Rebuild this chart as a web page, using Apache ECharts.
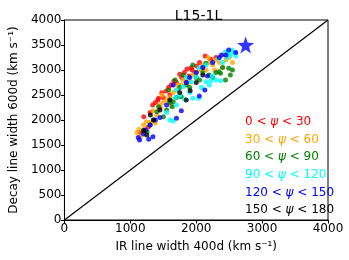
<!DOCTYPE html>
<html><head><meta charset="utf-8">
<script src="https://cdn.jsdelivr.net/npm/echarts@6/dist/echarts.min.js"></script>
<style>html,body{margin:0;padding:0;background:#fff}#c{width:349px;height:260px}</style>
</head><body><div id="c"></div>
<script>
const xTicks = [0, 1000, 2000, 3000, 4000];
const yTicks = [0, 500, 1000, 1500, 2000, 2500, 3000, 3500, 4000];
const legendLabels = ['0 < ', '30 < ', '60 < ', '90 < ', '120 < ', '150 < '];
const legendUpper = ['30', '60', '90', '120', '150', '180'];
const groupColors = ['#ff0000', '#ffa500', '#008000', '#00ffff', '#0000ff', '#000000'];

const red = [[1150,1750],[1204,2067],[1268,1853],[1300,2150],[1338,2300],[1380,2350],[1418,2400],[1428,2433],[1477,2547],[1500,2450],[1542,2580],[1580,2650],[1620,2700],[1661,2780],[1700,2750],[1750,2913],[1780,2850],[1820,2950],[1849,2767],[1859,3020],[1888,2880],[1923,3047],[1938,3000],[1980,2950],[2007,3080],[2050,3150],[2100,3050],[2137,3280],[2220,3213],[2300,3250],[1600,2500],[1450,2250]];
const orange = [[1100,1750],[1130,1813],[1155,1667],[1200,1900],[1244,1967],[1300,1950],[1343,2187],[1378,1933],[1400,2100],[1450,2300],[1500,2350],[1550,2400],[1600,2450],[1650,2550],[1700,2600],[1720,2700],[1780,2700],[1800,2800],[1850,2850],[1900,2750],[1950,2900],[2000,2950],[2050,3000],[2100,3100],[2150,3000],[2200,3150],[2250,3100],[2300,3200],[2350,3150],[2400,3050],[2450,3200],[2500,3250],[2550,3150],[2280,3000],[1620,2300],[1480,2500],[2180,3250],[2420,3300]];
const green = [[1200,1800],[1254,1767],[1300,1900],[1350,2000],[1403,2167],[1428,2267],[1502,2067],[1550,2200],[1600,2350],[1636,2267],[1651,2367],[1700,2450],[1774,2467],[1750,2650],[1799,2900],[1850,2700],[1900,2650],[1948,3100],[2000,2850],[2050,2800],[2100,2950],[2146,3133],[2196,2900],[2250,2850],[2300,2950],[2345,2967],[2369,2933],[2400,3050],[2444,2800],[2493,3033],[2518,2900],[2550,3000],[1580,2600],[1680,2800]];
const cyan = [[1601,2000],[1650,1980],[1550,2150],[1700,2300],[1680,2450],[1700,2600],[1750,2500],[1799,2667],[1824,2413],[1900,2550],[1923,2767],[1948,2433],[2000,2870],[2037,2433],[2080,2650],[2146,2767],[2200,2700],[2220,2787],[2245,2880],[2300,2800],[2345,3233],[2369,2787],[2400,3150],[2444,3367],[2470,3250],[2493,3333],[2518,3300],[2543,3400],[2580,3350],[2600,3280],[2150,3100],[2050,3050],[1850,2850]];
const blue = [[1120,1650],[1140,1600],[1200,1720],[1279,1613],[1343,1667],[1230,1800],[1300,1900],[1380,2000],[1450,2050],[1700,2033],[1774,2186],[2047,2480],[2131,2600],[2171,2880],[1850,2750],[1900,2850],[2000,2950],[2100,3050],[2250,3150],[2350,3250],[2384,3300],[2450,3300],[2493,3400],[2600,3350],[1550,2300],[1650,2700]];
const black = [[1204,1787],[1304,2100],[1353,2000],[1450,2200],[1600,2400],[1750,2550],[1849,2400],[1908,2587],[2000,2750],[2100,2900],[1250,1700]];
const star = [[2750, 3500]];
const diagonal = [[0, 0], [4000, 4000]];

const groups = [red, orange, green, cyan, blue, black];
const F = 'DejaVu Sans';

const series = groups.map((g, i) => ({
  type: 'scatter', data: g, symbolSize: 5,
  itemStyle: { color: groupColors[i] }, z: 3
}));
series.push({ type: 'line', data: diagonal, symbol: 'none', lineStyle: { color: '#000', width: 1.2 }, z: 2 });
series.push({ type: 'scatter', data: star,
  symbol: 'path://M0,-10 L2.35,-3.24 L9.51,-3.09 L3.80,1.24 L5.88,8.09 L0,4 L-5.88,8.09 L-3.80,1.24 L-9.51,-3.09 L-2.35,-3.24 Z',
  symbolSize: 17, itemStyle: { color: '#0000ff' }, z: 4 });

const graphics = legendLabels.map((t, i) => ({
  type: 'text', left: 245, top: 116 + i * 17.6,
  style: {
    text: t + '{i|ψ} < ' + legendUpper[i],
    fill: groupColors[i], font: '12px "' + F + '"',
    rich: { i: { fontStyle: 'italic', fontFamily: F, fontSize: 12, fill: groupColors[i] } }
  }
}));

const chart = echarts.init(document.getElementById('c'));
chart.setOption({
  animation: false,
  title: { text: 'L15-1L', left: 193.5, textAlign: 'center', top: 4,
    textStyle: { fontFamily: F, fontSize: 14, fontWeight: 'normal', color: '#000' } },
  grid: { left: 59, right: 21, top: 20, bottom: 40, show: true, borderColor: '#000', borderWidth: 1 },
  xAxis: { type: 'value', min: xTicks[0], max: xTicks[xTicks.length - 1], interval: 1000,
    name: 'IR line width 400d (km s⁻¹)', nameLocation: 'middle', nameGap: 21,
    nameTextStyle: { fontFamily: F, fontSize: 12, color: '#000' },
    axisLine: { show: true, lineStyle: { color: '#000' } },
    axisTick: { show: true, length: 3.5, lineStyle: { color: '#000' } },
    axisLabel: { fontFamily: F, fontSize: 12, color: '#000', margin: 3, formatter: v => String(v) },
    splitLine: { show: false } },
  yAxis: { type: 'value', min: yTicks[0], max: yTicks[yTicks.length - 1], interval: 500,
    name: 'Decay line width 600d (km s⁻¹)', nameLocation: 'middle', nameGap: 36,
    nameTextStyle: { fontFamily: F, fontSize: 12, color: '#000' },
    axisLine: { show: true, lineStyle: { color: '#000' } },
    axisTick: { show: true, length: 3.5, lineStyle: { color: '#000' } },
    axisLabel: { fontFamily: F, fontSize: 12, color: '#000', margin: 3, formatter: v => String(v) },
    splitLine: { show: false } },
  graphic: graphics,
  series: series
});
</script></body></html>
